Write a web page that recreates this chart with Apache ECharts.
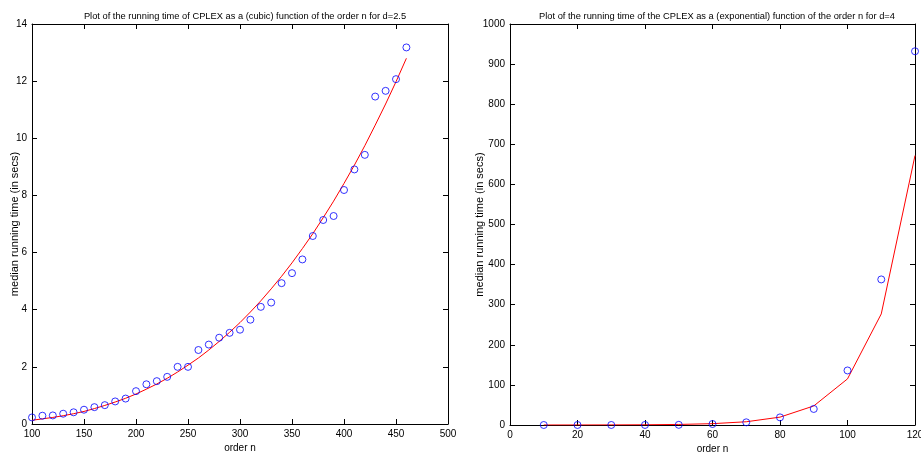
<!DOCTYPE html>
<html>
<head>
<meta charset="utf-8">
<script src="https://cdn.jsdelivr.net/npm/echarts@6/dist/echarts.min.js"></script>
<style>
  html, body { margin: 0; padding: 0; background: #fff; }
  #chart { width: 921px; height: 456px; }
</style>
</head>
<body>
<div id="chart"></div>
<script>
// Left panel: median CPLEX running time versus order n (d = 2.5), with cubic fit
const orderCubic = [100, 110, 120, 130, 140, 150, 160, 170, 180, 190, 200, 210, 220, 230, 240, 250,
  260, 270, 280, 290, 300, 310, 320, 330, 340, 350, 360, 370, 380, 390, 400, 410, 420, 430, 440, 450, 460];
const timeCubic = [0.23, 0.29, 0.30, 0.36, 0.41, 0.50, 0.59, 0.66, 0.79, 0.89, 1.15, 1.39, 1.50, 1.65, 2.00, 2.00,
  2.59, 2.78, 3.02, 3.19, 3.30, 3.65, 4.10, 4.25, 4.93, 5.28, 5.76, 6.58, 7.14, 7.28, 8.19, 8.91, 9.42, 11.46, 11.66, 12.07, 13.18];
const fitCubic = [0.13, 0.18, 0.23, 0.29, 0.36, 0.44, 0.54, 0.65, 0.77, 0.90, 1.05, 1.22, 1.40, 1.60, 1.82, 2.06,
  2.31, 2.59, 2.89, 3.21, 3.55, 3.92, 4.31, 4.73, 5.17, 5.64, 6.14, 6.66, 7.22, 7.80, 8.42, 9.06, 9.74, 10.46, 11.20, 11.98, 12.80];

// Right panel: median CPLEX running time versus order n (d = 4), with exponential fit
const orderExp = [10, 20, 30, 40, 50, 60, 70, 80, 90, 100, 110, 120];
const timeExp = [0.01, 0.02, 0.05, 0.15, 0.4, 2.5, 6.7, 19, 40, 136, 363, 932];
const fitExp = [0.04, 0.1, 0.24, 0.57, 1.38, 3.35, 8.1, 19.6, 47.5, 115, 277, 672];

const titles = [
  'Plot of the running time of CPLEX as a (cubic) function of the order n for d=2.5',
  'Plot of the running time of the CPLEX as a (exponential) function of the order n for d=4'
];
const xName = 'order n';
const yName = 'median running time (in secs)';

const FONT = 'Liberation Sans, Arial, sans-serif';
const black = '#000';

function pairs(xs, ys) { return xs.map((x, i) => [x, ys[i]]); }

const grids = [
  { left: 32, top: 24, width: 416, height: 400, containLabel: false, outerBoundsMode: 'none' },
  { left: 510, top: 24, width: 405, height: 401, containLabel: false, outerBoundsMode: 'none' }
];

const ranges = [
  { xmin: 100, xmax: 500, xint: 50, ymin: 0, ymax: 14, yint: 2, yGap: 12 },
  { xmin: 0, xmax: 120, xint: 20, ymin: 0, ymax: 1000, yint: 100, yGap: 25 }
];

const plain = v => String(v);

const xAxes = [], yAxes = [];
ranges.forEach((r, g) => {
  const tick = { show: true, inside: true, length: 5, lineStyle: { color: black, width: 1 } };
  const frame = { show: true, onZero: false, lineStyle: { color: black, width: 1 } };
  xAxes.push({
    type: 'value', gridIndex: g, position: 'bottom', min: r.xmin, max: r.xmax, interval: r.xint,
    name: xName, nameLocation: 'middle', nameGap: 19, nameMoveOverlap: false,
    nameTextStyle: { fontFamily: FONT, fontSize: 10, color: black },
    axisLine: frame, axisTick: tick,
    axisLabel: { fontFamily: FONT, fontSize: 10, color: black, margin: 5, formatter: plain,
      showMaxLabel: true, showMinLabel: true, hideOverlap: false },
    splitLine: { show: false }
  });
  xAxes.push({
    type: 'value', gridIndex: g, position: 'top', min: r.xmin, max: r.xmax, interval: r.xint,
    axisLine: frame, axisTick: tick, axisLabel: { show: false }, splitLine: { show: false }
  });
  yAxes.push({
    type: 'value', gridIndex: g, position: 'left', min: r.ymin, max: r.ymax, interval: r.yint,
    name: yName, nameLocation: 'middle', nameGap: r.yGap, nameMoveOverlap: false,
    nameTextStyle: { fontFamily: FONT, fontSize: 11, color: black },
    axisLine: frame, axisTick: tick,
    axisLabel: { fontFamily: FONT, fontSize: 10, color: black, margin: 5, formatter: plain,
      showMaxLabel: true, showMinLabel: true, hideOverlap: false },
    splitLine: { show: false }
  });
  yAxes.push({
    type: 'value', gridIndex: g, position: 'right', min: r.ymin, max: r.ymax, interval: r.yint,
    axisLine: frame, axisTick: tick, axisLabel: { show: false }, splitLine: { show: false }
  });
});

const scatterStyle = {
  type: 'scatter', symbol: 'circle', symbolSize: 7, clip: false,
  itemStyle: { color: 'rgba(0,0,0,0)', borderColor: '#0000ff', borderWidth: 1 },
  emphasis: { disabled: true }, z: 3
};
const lineStyle = {
  type: 'line', showSymbol: false, symbol: 'none', smooth: false,
  lineStyle: { color: '#ff0000', width: 1 }, z: 2
};

const titleText = { fontFamily: FONT, fontSize: 9.3, fontWeight: 'normal', color: black };

const option = {
  animation: false,
  backgroundColor: '#fff',
  title: [
    { text: titles[0], left: 240, top: 7, textAlign: 'center', textStyle: titleText },
    { text: titles[1], left: 712, top: 7, textAlign: 'center', textStyle: titleText }
  ],
  grid: grids,
  xAxis: xAxes,
  yAxis: yAxes,
  series: [
    Object.assign({}, lineStyle, { xAxisIndex: 0, yAxisIndex: 0, data: pairs(orderCubic, fitCubic) }),
    Object.assign({}, scatterStyle, { xAxisIndex: 0, yAxisIndex: 0, data: pairs(orderCubic, timeCubic) }),
    Object.assign({}, lineStyle, { xAxisIndex: 2, yAxisIndex: 2, data: pairs(orderExp, fitExp) }),
    Object.assign({}, scatterStyle, { xAxisIndex: 2, yAxisIndex: 2, data: pairs(orderExp, timeExp) })
  ]
};

const chart = echarts.init(document.getElementById('chart'), null, { renderer: 'canvas' });
chart.setOption(option);
</script>
</body>
</html>
